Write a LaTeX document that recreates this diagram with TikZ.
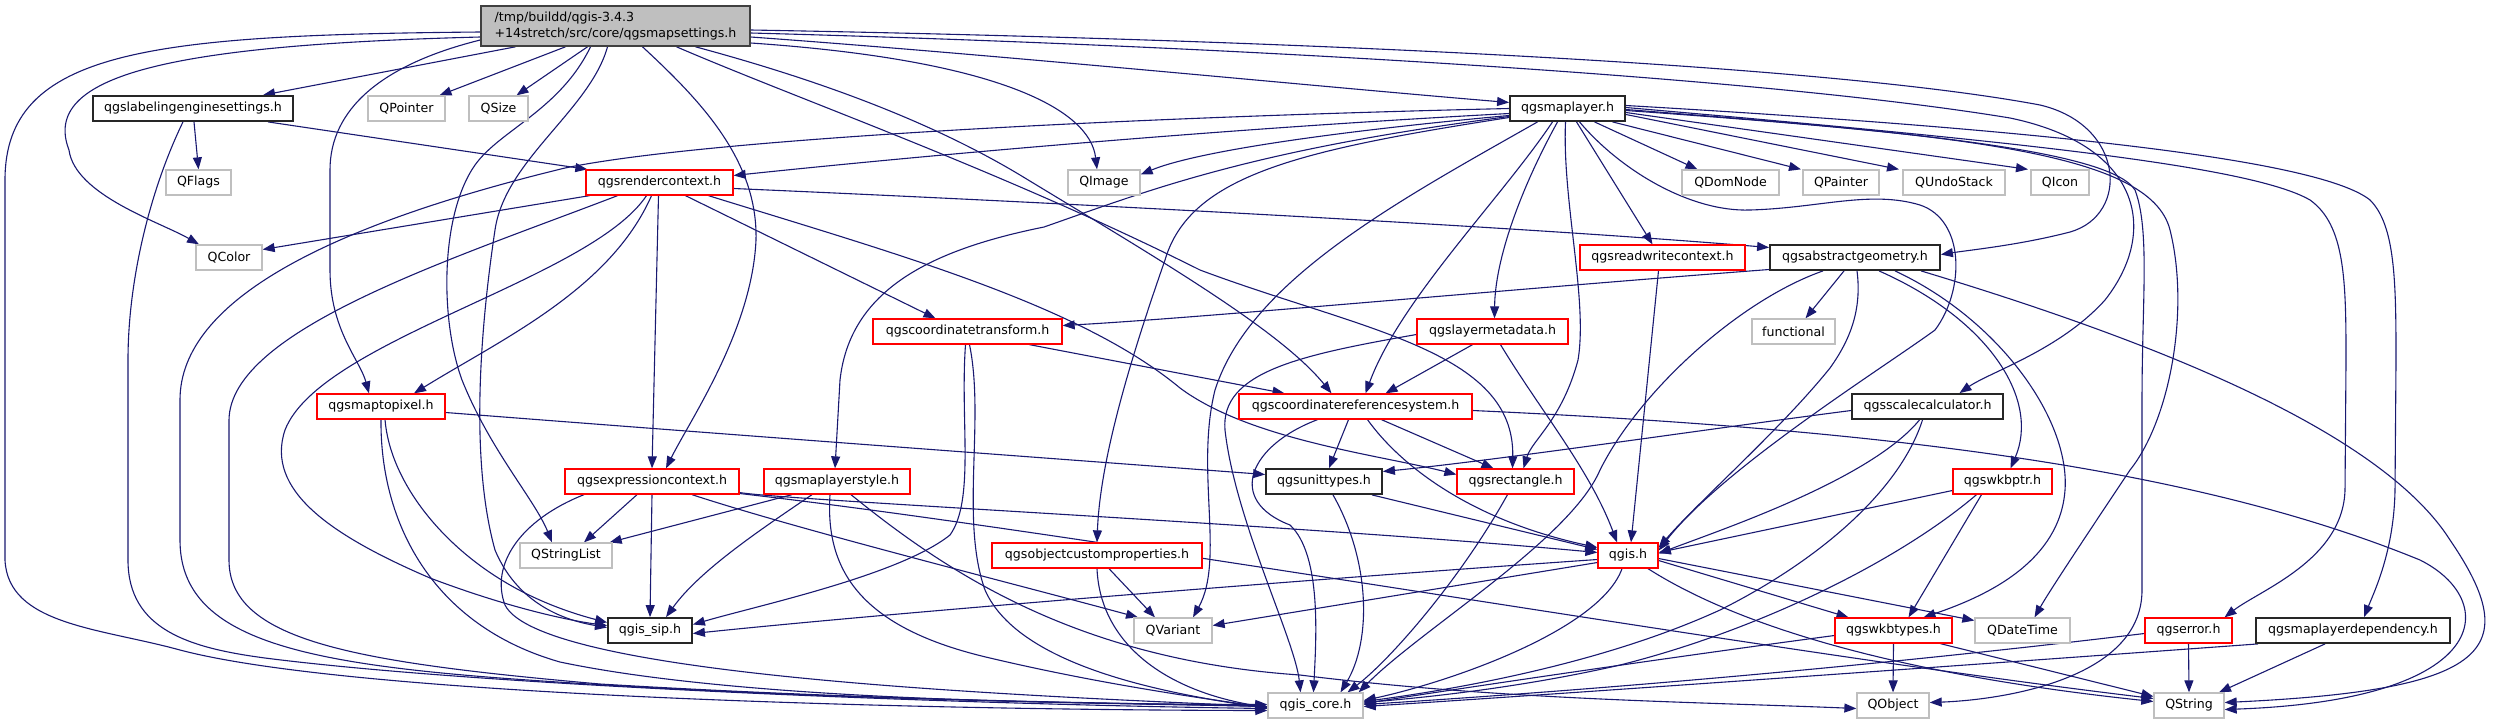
\documentclass[tikz,border=0pt]{standalone}
\usepackage{fontspec}
\newfontfamily\dejavu{DejaVu Sans}
\usepackage{tikz}
\usetikzlibrary{arrows.meta, backgrounds}
\definecolor{edgeblue}{HTML}{191970}
\definecolor{extgray}{HTML}{BFBFBF}

\begin{document}
\begin{tikzpicture}[x=1pt, y=-1pt, >={Triangle[length=12pt, width=9pt]},
        box/.style={rectangle, fill=white, minimum height=25pt, inner xsep=2pt, inner ysep=0pt, line width=1.3pt, font=\dejavu\fontsize{12.6}{15}\selectfont},
        hdr/.style={box, draw=black!85, line width=1.8pt},
        trunc/.style={box, draw=red},
        ext/.style={box, draw=extgray},
        root/.style={box, draw=black!75, fill=extgray, line width=1.6pt, align=left, minimum height=40pt, font=\dejavu\fontsize{12.6}{16}\selectfont},
        dep/.style={->, draw=edgeblue, line width=1.1pt}]
        \useasboundingbox (0,0) rectangle (2496,724);

        % Nút gốc
        \node[root, minimum width=269] (mapsettings) at (615.5,26) {/tmp/buildd/qgis-3.4.3\\+14stretch/src/core/qgsmapsettings.h};

        % Hàng 1 và 2
        \node[hdr, minimum width=200] (labeling) at (193,108.5) {qgslabelingenginesettings.h};
        \node[ext, minimum width=77] (qpointer) at (406.5,108.5) {QPointer};
        \node[ext, minimum width=59] (qsize) at (498.5,108.5) {QSize};
        \node[hdr, minimum width=115] (maplayer) at (1567.5,108.5) {qgsmaplayer.h};
        \node[ext, minimum width=65] (qflags) at (198.5,182.5) {QFlags};
        \node[trunc, minimum width=147] (rendercontext) at (659.5,182.5) {qgsrendercontext.h};
        \node[ext, minimum width=72] (qimage) at (1104,182.5) {QImage};
        \node[ext, minimum width=97] (qdomnode) at (1730.5,182.5) {QDomNode};
        \node[ext, minimum width=76] (qpainter) at (1841,182.5) {QPainter};
        \node[ext, minimum width=102] (qundostack) at (1954,182.5) {QUndoStack};
        \node[ext, minimum width=58] (qicon) at (2060,182.5) {QIcon};

        % Hàng 3 và 4
        \node[ext, minimum width=66] (qcolor) at (229,257.5) {QColor};
        \node[trunc, minimum width=165] (readwrite) at (1662.5,257.5) {qgsreadwritecontext.h};
        \node[hdr, minimum width=170] (abstractgeom) at (1855,257.5) {qgsabstractgeometry.h};
        \node[trunc, minimum width=189] (coordtrans) at (967.5,331.5) {qgscoordinatetransform.h};
        \node[trunc, minimum width=151] (layermeta) at (1492.5,331.5) {qgslayermetadata.h};
        \node[ext, minimum width=83] (functional) at (1793.5,331.5) {functional};

        % Hàng 5 và 6
        \node[trunc, minimum width=128] (maptopixel) at (381,406.5) {qgsmaptopixel.h};
        \node[trunc, minimum width=233] (crs) at (1355.5,406.5) {qgscoordinatereferencesystem.h};
        \node[hdr, minimum width=151] (scalecalc) at (1927.5,406.5) {qgsscalecalculator.h};
        \node[trunc, minimum width=174] (exprcontext) at (652,481.5) {qgsexpressioncontext.h};
        \node[trunc, minimum width=146] (layerstyle) at (837,481.5) {qgsmaplayerstyle.h};
        \node[hdr, minimum width=116] (unittypes) at (1324,481.5) {qgsunittypes.h};
        \node[trunc, minimum width=117] (qgsrect) at (1515.5,481.5) {qgsrectangle.h};
        \node[trunc, minimum width=99] (wkbptr) at (2002.5,481.5) {qgswkbptr.h};

        % Hàng 7 và 8
        \node[ext, minimum width=92] (qstringlist) at (566,555.5) {QStringList};
        \node[trunc, minimum width=210] (customprops) at (1097,555.5) {qgsobjectcustomproperties.h};
        \node[trunc, minimum width=60] (qgis) at (1628,555.5) {qgis.h};
        \node[hdr, minimum width=84] (qgissip) at (650,630.5) {qgis\_sip.h};
        \node[ext, minimum width=78] (qvariant) at (1173,630.5) {QVariant};
        \node[trunc, minimum width=117] (wkbtypes) at (1893.5,630.5) {qgswkbtypes.h};
        \node[ext, minimum width=95] (qdatetime) at (2022.5,630.5) {QDateTime};
        \node[trunc, minimum width=87] (qgserror) at (2188.5,630.5) {qgserror.h};
        \node[hdr, minimum width=194] (layerdep) at (2353,630.5) {qgsmaplayerdependency.h};

        % Hàng cuối
        \node[ext, minimum width=95] (qgiscore) at (1315.5,705.5) {qgis\_core.h};
        \node[ext, minimum width=72] (qobject) at (1893,705.5) {QObject};
        \node[ext, minimum width=70] (qstring) at (2189,705.5) {QString};

        \begin{scope}[on background layer]
        % Từ qgsmapsettings.h
        \draw[dep] ([yshift=-6pt]mapsettings.west) .. controls (150,35) and (5,50) .. (5,180) -- (5,560) .. controls (8,625) and (100,628) .. (180,650) .. controls (350,695) and (900,710) .. ([yshift=-5pt]qgiscore.west);
        \draw[dep] ([yshift=-11pt]mapsettings.west) .. controls (170,45) and (40,75) .. (69,150) .. controls (75,195) and (160,222) .. ([xshift=-30pt]qcolor.north);
        \draw[dep] ([xshift=-100pt]mapsettings.south) -- ([xshift=70pt]labeling.north);
        \draw[dep] ([yshift=-14pt]mapsettings.west) .. controls (380,65) and (330,110) .. (330,170) -- (330,270) .. controls (330,330) and (360,360) .. ([xshift=-12pt]maptopixel.north);
        \draw[dep] ([xshift=-50pt]mapsettings.south) -- ([xshift=33pt]qpointer.north);
        \draw[dep] ([xshift=-28pt]mapsettings.south) -- ([xshift=18pt]qsize.north);
        \draw[dep] ([xshift=-25pt]mapsettings.south) .. controls (560,110) and (500,130) .. (475,165) .. controls (440,215) and (440,320) .. (462,380) .. controls (490,450) and (535,500) .. ([xshift=-14pt]qstringlist.north);
        \draw[dep] ([xshift=-8pt]mapsettings.south) .. controls (590,110) and (505,160) .. (495,230) .. controls (480,330) and (470,460) .. (495,550) .. controls (520,610) and (575,622) .. ([yshift=3pt]qgissip.west);
        \draw[dep] ([xshift=27pt]mapsettings.south) .. controls (700,100) and (758,160) .. (756,240) .. controls (752,330) and (690,420) .. ([xshift=14pt]exprcontext.north);
        \draw[dep] ([xshift=61pt]mapsettings.south) .. controls (800,100) and (1000,170) .. (1200,270) .. controls (1360,330) and (1515,350) .. ([xshift=-3pt]qgsrect.north);
        \draw[dep] ([xshift=80pt]mapsettings.south) .. controls (800,75) and (920,115) .. (1020,175) .. controls (1160,260) and (1280,330) .. ([xshift=-24pt]crs.north);
        \draw[dep] ([yshift=-11pt]mapsettings.east) .. controls (1000,55) and (1300,85) .. ([yshift=6pt]maplayer.west);
        \draw[dep] ([yshift=-17pt]mapsettings.east) .. controls (1000,60) and (1090,110) .. ([xshift=-7pt]qimage.north);
        \draw[dep] ([yshift=-4pt]mapsettings.east) .. controls (1200,38) and (1800,60) .. (2040,105) .. controls (2125,125) and (2130,215) .. (2070,232) .. controls (2020,245) and (1970,250) .. ([yshift=3pt]abstractgeom.east);
        \draw[dep] ([yshift=-7pt]mapsettings.east) .. controls (1200,45) and (1750,75) .. (2010,118) .. controls (2140,145) and (2160,230) .. (2105,300) .. controls (2060,350) and (1990,372) .. ([xshift=32pt]scalecalc.north);

        % Từ qgslabelingenginesettings.h
        \draw[dep] ([xshift=1pt]labeling.south) -- (qflags.north);
        \draw[dep] ([xshift=75pt]labeling.south) -- ([xshift=2pt]rendercontext.north west);
        \draw[dep] ([xshift=-10pt]labeling.south) .. controls (150,190) and (128,280) .. (128,360) -- (128,560) .. controls (128,630) and (190,648) .. (265,658) .. controls (500,688) and (1000,705) .. ([yshift=-3pt]qgiscore.west);

        % Từ qgsmaplayer.h
        \draw[dep] ([yshift=-5pt]maplayer.west) .. controls (1200,130) and (900,158) .. ([yshift=7pt]rendercontext.east);
        \draw[dep] (maplayer.west) .. controls (1100,118) and (700,140) .. (565,168) .. controls (330,225) and (180,300) .. (180,400) -- (180,540) .. controls (180,635) and (290,662) .. (500,678) .. controls (800,700) and (1100,703) .. ([yshift=-1pt]qgiscore.west);
        \draw[dep] ([yshift=-7pt]maplayer.west) .. controls (1350,130) and (1200,150) .. ([yshift=8pt]qimage.east);
        \draw[dep] ([yshift=-8pt]maplayer.west) .. controls (1250,150) and (1150,190) .. (1044,227) .. controls (930,250) and (850,290) .. (840,380) -- ([xshift=-2pt]layerstyle.north);
        \draw[dep] ([yshift=-9pt]maplayer.west) .. controls (1300,150) and (1190,175) .. (1165,260) .. controls (1130,360) and (1100,460) .. (customprops.north);
        \draw[dep] ([xshift=-30pt]maplayer.south) .. controls (1400,200) and (1250,280) .. (1215,390) .. controls (1195,470) and (1225,560) .. ([xshift=20pt]qvariant.north);
        \draw[dep] ([xshift=-15pt]maplayer.south) .. controls (1500,200) and (1400,300) .. ([xshift=10pt]crs.north);
        \draw[dep] ([xshift=-10pt]maplayer.south) .. controls (1520,190) and (1495,260) .. ([xshift=2pt]layermeta.north);
        \draw[dep] ([xshift=-2pt]maplayer.south) .. controls (1562,200) and (1588,300) .. (1578,360) .. controls (1562,420) and (1532,440) .. ([xshift=8pt]qgsrect.north);
        \draw[dep] ([xshift=9pt]maplayer.south) -- ([xshift=-10pt]readwrite.north);
        \draw[dep] ([xshift=12pt]maplayer.south) .. controls (1620,170) and (1690,212) .. (1750,210) .. controls (1820,208) and (1870,190) .. (1920,205) .. controls (1965,220) and (1965,290) .. (1935,330) .. controls (1880,370) and (1720,470) .. ([yshift=5pt]qgis.east);
        \draw[dep] ([xshift=27pt]maplayer.south) -- ([xshift=-33pt]qdomnode.north);
        \draw[dep] ([xshift=45pt]maplayer.south) -- ([xshift=-40pt]qpainter.north);
        \draw[dep] ([yshift=-6pt]maplayer.east) -- ([xshift=-55pt]qundostack.north);
        \draw[dep] ([yshift=-4pt]maplayer.east) -- ([xshift=-32pt]qicon.north);
        \draw[dep] ([yshift=-2pt]maplayer.east) .. controls (1900,130) and (2110,150) .. (2135,190) .. controls (2150,230) and (2142,300) .. (2142,400) -- (2142,590) .. controls (2142,680) and (2000,700) .. ([yshift=3pt]qobject.east);
        \draw[dep] ([yshift=-1pt]maplayer.east) .. controls (1950,135) and (2150,150) .. (2170,230) .. controls (2190,310) and (2170,420) .. (2130,470) .. controls (2090,530) and (2050,590) .. ([xshift=12pt]qdatetime.north);
        \draw[dep] ([yshift=1pt]maplayer.east) .. controls (2000,140) and (2250,165) .. (2310,200) .. controls (2345,225) and (2346,280) .. (2346,360) -- (2345,490) .. controls (2343,560) and (2260,590) .. ([xshift=36pt]qgserror.north);
        \draw[dep] ([yshift=3pt]maplayer.east) .. controls (2050,130) and (2320,160) .. (2370,200) .. controls (2395,225) and (2396,280) .. (2396,360) -- (2395,490) .. controls (2394,550) and (2375,590) .. ([xshift=11pt]layerdep.north);

        % Từ qgsrendercontext.h
        \draw[dep] ([xshift=-70pt]rendercontext.south) -- ([yshift=8pt]qcolor.east);
        \draw[dep] ([xshift=-42pt]rendercontext.south) .. controls (450,260) and (230,330) .. (229,420) -- (229,560) .. controls (229,640) and (350,662) .. (600,684) .. controls (900,702) and (1150,703) .. ([yshift=-1pt]qgiscore.west);
        \draw[dep] ([xshift=-13pt]rendercontext.south) .. controls (590,280) and (320,340) .. (285,430) .. controls (265,490) and (330,535) .. (430,578) .. controls (520,612) and (580,622) .. ([yshift=5pt]qgissip.west);
        \draw[dep] ([xshift=-1pt]rendercontext.south) -- (exprcontext.north);
        \draw[dep] ([xshift=-8pt]rendercontext.south) .. controls (610,290) and (500,340) .. ([xshift=33pt]maptopixel.north);
        \draw[dep] ([xshift=26pt]rendercontext.south) -- ([xshift=-32pt]coordtrans.north);
        \draw[dep] ([xshift=49pt]rendercontext.south) .. controls (900,255) and (1080,305) .. (1180,388) .. controls (1250,440) and (1380,455) .. ([yshift=7pt]qgsrect.west);
        \draw[dep] ([yshift=-6pt]rendercontext.east) .. controls (1000,200) and (1500,225) .. ([yshift=10pt]abstractgeom.west);

        % Từ qgsabstractgeometry.h
        \draw[dep] ([yshift=-12pt]abstractgeom.west) .. controls (1500,290) and (1200,318) .. ([yshift=6pt]coordtrans.east);
        \draw[dep] ([xshift=-32pt]abstractgeom.south) .. controls (1740,300) and (1640,390) .. (1600,470) .. controls (1570,540) and (1420,630) .. ([xshift=-5pt]qgiscore.north east);
        \draw[dep] ([xshift=-11pt]abstractgeom.south) -- ([xshift=12pt]functional.north);
        \draw[dep] ([xshift=2pt]abstractgeom.south) .. controls (1862,310) and (1850,340) .. (1830,368) .. controls (1780,430) and (1700,500) .. ([yshift=8pt]qgis.east);
        \draw[dep] ([xshift=24pt]abstractgeom.south) .. controls (1990,320) and (2040,400) .. ([xshift=8pt]wkbptr.north);
        \draw[dep] ([xshift=40pt]abstractgeom.south) .. controls (2000,320) and (2070,420) .. (2065,490) .. controls (2060,560) and (1990,595) .. ([xshift=30pt]wkbtypes.north);
        \draw[dep] ([xshift=66pt]abstractgeom.south) .. controls (2150,340) and (2380,430) .. (2450,540) .. controls (2525,650) and (2490,690) .. ([yshift=3pt]qstring.east);

        % Các nút ở giữa
        \draw[dep] ([xshift=-4pt]readwrite.south) -- ([xshift=3pt]qgis.north);
        \draw[dep] ([xshift=62pt]coordtrans.south) -- ([xshift=-71pt]crs.north);
        \draw[dep] ([xshift=-2pt]coordtrans.south) .. controls (960,420) and (975,500) .. (950,535) .. controls (900,575) and (760,605) .. ([yshift=6pt]qgissip.east);
        \draw[dep] ([xshift=2pt]coordtrans.south) .. controls (985,420) and (960,520) .. (985,590) .. controls (1020,670) and (1180,695) .. ([yshift=-3pt]qgiscore.west);
        \draw[dep] ([xshift=-20pt]layermeta.south) -- ([xshift=30pt]crs.north);
        \draw[dep] ([xshift=8pt]layermeta.south) .. controls (1540,410) and (1590,470) .. ([xshift=-11pt]qgis.north);
        \draw[dep] ([yshift=-3pt]layermeta.west) .. controls (1300,355) and (1220,372) .. (1225,430) .. controls (1235,520) and (1295,640) .. ([xshift=-15pt]qgiscore.north);
        \draw[dep] ([yshift=-6pt]maptopixel.east) .. controls (800,440) and (1100,462) .. ([yshift=7pt]unittypes.west);
        \draw[dep] ([xshift=4pt]maptopixel.south) .. controls (390,480) and (440,545) .. (510,585) .. controls (550,608) and (590,618) .. ([yshift=8pt]qgissip.west);
        \draw[dep] (maptopixel.south) .. controls (380,520) and (430,625) .. (560,662) .. controls (750,702) and (1100,704) .. ([yshift=1pt]qgiscore.west);
        \draw[dep] ([xshift=-7pt]crs.south) -- ([xshift=5pt]unittypes.north);
        \draw[dep] ([xshift=26pt]crs.south) -- ([xshift=-22pt]qgsrect.north);
        \draw[dep] ([xshift=12pt]crs.south) .. controls (1400,465) and (1470,520) .. ([yshift=8pt]qgis.west);
        \draw[dep] ([xshift=-38pt]crs.south) .. controls (1250,445) and (1225,500) .. (1290,525) .. controls (1322,555) and (1316,640) .. ([xshift=-2pt]qgiscore.north);
        \draw[dep] ([yshift=-4pt]crs.east) .. controls (1900,430) and (2200,470) .. (2420,560) .. controls (2500,600) and (2495,700) .. ([yshift=-4pt]qstring.east);
        \draw[dep] ([yshift=-4pt]scalecalc.west) .. controls (1700,430) and (1500,460) .. ([yshift=10pt]unittypes.east);
        \draw[dep] ([xshift=-8pt]scalecalc.south) .. controls (1870,480) and (1720,530) .. ([yshift=2pt]qgis.east);
        \draw[dep] ([xshift=-5pt]scalecalc.south) .. controls (1900,490) and (1820,560) .. (1720,610) .. controls (1600,665) and (1450,690) .. ([yshift=4pt]qgiscore.east);

        % Từ qgsexpressioncontext.h và qgsmaplayerstyle.h
        \draw[dep] ([xshift=-15pt]exprcontext.south) -- ([xshift=18pt]qstringlist.north);
        \draw[dep] (exprcontext.south) -- (qgissip.north);
        \draw[dep] ([xshift=-68pt]exprcontext.south) .. controls (520,520) and (490,565) .. (505,605) .. controls (540,675) and (1000,695) .. ([yshift=-1pt]qgiscore.west);
        \draw[dep] ([xshift=40pt]exprcontext.south) .. controls (800,530) and (1000,580) .. ([xshift=-35pt]qvariant.north);
        \draw[dep] ([yshift=-11pt]exprcontext.east) .. controls (780,500) and (1300,525) .. ([yshift=3pt]qgis.west);
        \draw[dep] ([yshift=-12pt]exprcontext.east) .. controls (1100,535) and (1750,650) .. ([yshift=7pt]qstring.west);
        \draw[dep] ([xshift=-45pt]layerstyle.south) -- ([xshift=-3pt]qstringlist.north east);
        \draw[dep] ([xshift=-25pt]layerstyle.south) .. controls (760,530) and (700,570) .. ([xshift=16pt]qgissip.north);
        \draw[dep] ([xshift=-7pt]layerstyle.south) .. controls (825,570) and (860,628) .. (990,658) .. controls (1100,684) and (1200,698) .. ([yshift=-2pt]qgiscore.west);
        \draw[dep] ([xshift=14pt]layerstyle.south) .. controls (950,575) and (1080,660) .. (1300,675) .. controls (1500,700) and (1700,702) .. ([yshift=-3pt]qobject.west);

        % Các nút phía dưới
        \draw[dep] ([xshift=48pt]unittypes.south) -- ([yshift=6pt]qgis.west);
        \draw[dep] ([xshift=9pt]unittypes.south) .. controls (1370,560) and (1372,640) .. ([xshift=25pt]qgiscore.north);
        \draw[dep] ([xshift=-8pt]qgsrect.south) .. controls (1460,580) and (1390,660) .. ([xshift=32pt]qgiscore.north);
        \draw[dep] ([xshift=12pt]customprops.south) -- ([xshift=-18pt]qvariant.north);
        \draw[dep] (customprops.south) .. controls (1100,640) and (1160,690) .. ([yshift=-2pt]qgiscore.west);
        \draw[dep] ([yshift=-4pt]qgis.west) .. controls (1300,580) and (900,612) .. ([yshift=-3pt]qgissip.east);
        \draw[dep] ([yshift=-7pt]qgis.west) -- ([yshift=5pt]qvariant.east);
        \draw[dep] ([xshift=-6pt]qgis.south) .. controls (1600,630) and (1450,682) .. ([yshift=5pt]qgiscore.east);
        \draw[dep] ([yshift=-5pt]qgis.east) -- ([xshift=-45pt]wkbtypes.north);
        \draw[dep] ([yshift=-3pt]qgis.east) -- ([yshift=10pt]qdatetime.west);
        \draw[dep] ([xshift=20pt]qgis.south) .. controls (1760,640) and (1950,680) .. ([yshift=4pt]qstring.west);
        \draw[dep] ([yshift=-9pt]wkbptr.west) -- ([yshift=3pt]qgis.east);
        \draw[dep] ([xshift=-21pt]wkbptr.south) -- ([xshift=15pt]wkbtypes.north);
        \draw[dep] ([xshift=-26pt]wkbptr.south) .. controls (1900,560) and (1760,630) .. (1620,665) .. controls (1520,688) and (1420,698) .. ([yshift=3pt]qgiscore.east);
        \draw[dep] ([yshift=-5pt]wkbtypes.west) .. controls (1650,660) and (1450,690) .. ([yshift=2pt]qgiscore.east);
        \draw[dep] (wkbtypes.south) -- (qobject.north);
        \draw[dep] ([xshift=47pt]wkbtypes.south) -- ([yshift=9pt]qstring.west);
        \draw[dep] ([yshift=-3pt]qgserror.west) .. controls (1800,675) and (1500,696) .. ([yshift=1pt]qgiscore.east);
        \draw[dep] (qgserror.south) -- (qstring.north);
        \draw[dep] ([xshift=3pt]layerdep.south west) .. controls (1900,670) and (1500,698) .. ([yshift=-1pt]qgiscore.east);
        \draw[dep] ([xshift=-28pt]layerdep.south) -- ([xshift=30pt]qstring.north);
        \end{scope}
    \end{tikzpicture}
\end{document}
